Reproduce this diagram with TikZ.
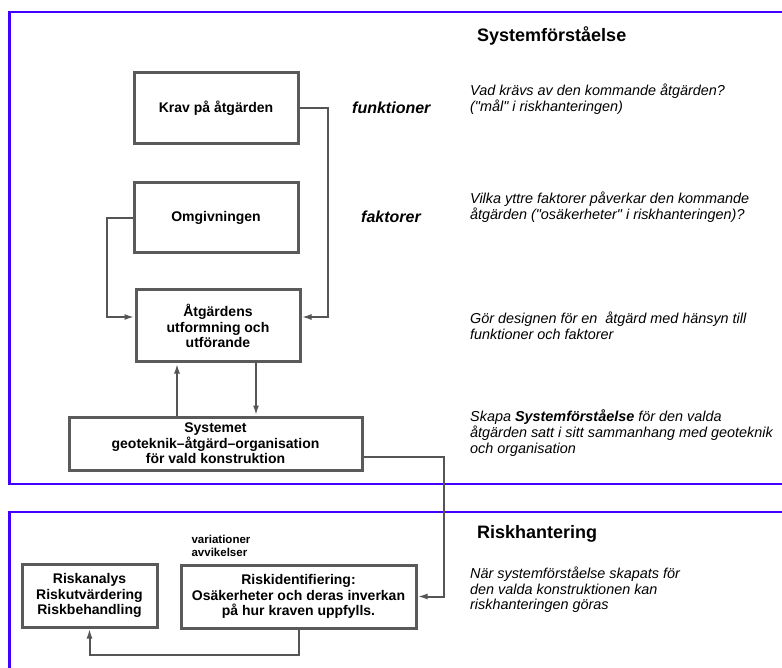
\documentclass[tikz,border=0pt]{standalone}
\usepackage{fontspec}
\setmainfont{Liberation Sans}
\usetikzlibrary{arrows.meta,positioning}
\definecolor{FrameBlue}{HTML}{4400FF}
\definecolor{BoxGray}{HTML}{5A5A5A}
\definecolor{LineGray}{HTML}{555555}
\tikzset{
  framebox/.style={draw=FrameBlue, line width=2.4pt},
  blockbox/.style={draw=BoxGray, line width=3pt, fill=white, align=center,
                   font=\fontsize{14}{15.5}\selectfont\bfseries, inner sep=0pt},
  conn/.style={-{Latex[length=10pt,width=6pt]}, line width=2pt, LineGray},
  headtitle/.style={font=\fontsize{18}{20}\selectfont\bfseries, anchor=west, inner sep=0pt},
  keyword/.style={font=\fontsize{16}{18}\selectfont\bfseries\itshape, anchor=west, inner sep=0pt},
  sidenote/.style={font=\fontsize{14.4}{15.6}\selectfont\itshape, align=left, anchor=west, inner sep=0pt},
  smallnote/.style={font=\fontsize{11.5}{13}\selectfont\bfseries, align=left, inner sep=0pt},
}
\begin{document}
\begin{tikzpicture}[x=1pt, y=-1pt]
  \useasboundingbox (0,0) rectangle (782,668);
  \clip (0,0) rectangle (782,668);
  \fill[white] (0,0) rectangle (782,668);

  % the two frames run off the right and bottom edge
  \draw[framebox] (9.5,12) rectangle (800,484);
  \draw[framebox] (9.5,512) rectangle (800,700);

  % Systemförståelse
  \node[headtitle] (systitle) at (477,36) {Systemförståelse};
  \node[blockbox, minimum width=164, minimum height=71] (krav) at (216,108.5) {Krav på åtgärden};
  \node[blockbox, minimum width=164, minimum height=70] (omg) at (216,218) {Omgivningen};
  \node[blockbox, minimum width=164, minimum height=72] (atg) at (218,326)
    {Åtgärdens\\utformning och\\utförande};
  \node[blockbox, minimum width=293, minimum height=53] (sys) at (215.5,443.5)
    {Systemet\\geoteknik–åtgärd–organisation\\för vald konstruktion};

  \node[keyword] (funk) at (352,108) {funktioner};
  \node[keyword] (fakt) at (361,217) {faktorer};

  \node[sidenote] (noteA) at (470,99)
    {Vad krävs av den kommande åtgärden?\\(\textquotedbl mål\textquotedbl\ i riskhanteringen)};
  \node[sidenote] (noteB) at (470,207)
    {Vilka yttre faktorer påverkar den kommande\\åtgärden (\textquotedbl osäkerheter\textquotedbl\ i riskhanteringen)?};
  \node[sidenote] (noteC) at (470,325.5)
    {Gör designen för en \ åtgärd med hänsyn till\\funktioner och faktorer};
  \node[sidenote] (noteD) at (470,433)
    {Skapa \textbf{Systemförståelse} för den valda\\åtgärden satt i sitt sammanhang med geoteknik\\och organisation};

  \draw[conn] (krav.east) -- ++(28,0) |- ([yshift=9pt]atg.east);
  \draw[conn] (omg.west) -- ++(-26,0) |- ([yshift=9pt]atg.west);
  \draw[conn] ([xshift=-41pt]atg.south |- sys.north) -- ([xshift=-41pt]atg.south);
  \draw[conn] ([xshift=38pt]atg.south) -- ([xshift=38pt]atg.south |- sys.north);

  % Riskhantering
  \node[headtitle] (risktitle) at (477,534) {Riskhantering};
  \node[smallnote] (variation) at (221,546) {variationer\\avvikelser};
  \node[blockbox, minimum width=135, minimum height=63] (riskan) at (89.5,595.5)
    {Riskanalys\\Riskutvärdering\\Riskbehandling};
  \node[blockbox, minimum width=235, minimum height=63] (riskid) at (298.5,596.5)
    {Riskidentifiering:\\Osäkerheter och deras inverkan\\på hur kraven uppfylls.};
  \node[sidenote] (noteE) at (470,590)
    {När systemförståelse skapats för\\den valda konstruktionen kan\\riskhanteringen göras};

  \draw[conn] ([yshift=-13pt]sys.east) -- ++(80,0) |- (riskid.east);
  \draw[conn] (riskid.south) -- ++(0,25) -| (riskan.south);
\end{tikzpicture}
\end{document}
